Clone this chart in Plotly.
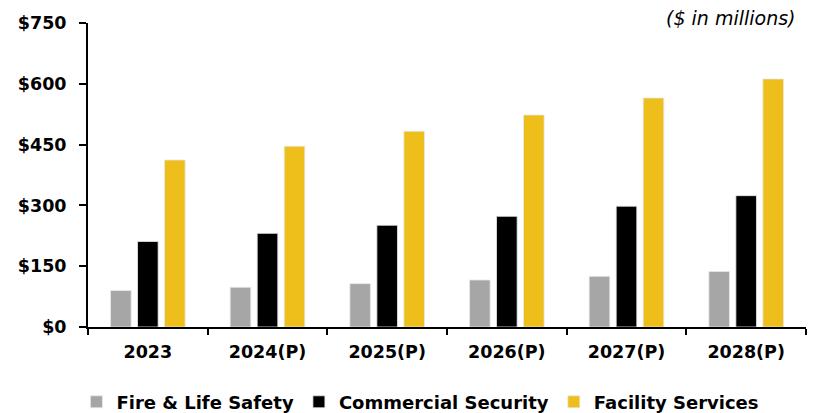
import plotly.graph_objects as go

categories = ["2023", "2024(P)", "2025(P)", "2026(P)", "2027(P)", "2028(P)"]
fire_life_safety = [90, 98, 107, 116, 125, 137]
commercial_security = [211, 231, 251, 273, 298, 324]
facility_services = [412, 446, 483, 523, 565, 612]
y_ticks = [0, 150, 300, 450, 600, 750]
y_tick_labels = ["$0", "$150", "$300", "$450", "$600", "$750"]

FONT = "DejaVu Sans"

fig = go.Figure()
series = [
    ("Fire & Life Safety", fire_life_safety, "#A6A6A6"),
    ("Commercial Security", commercial_security, "#000000"),
    ("Facility Services", facility_services, "#EEBE1A"),
]
for name, vals, col in series:
    fig.add_trace(go.Bar(
        x=categories, y=vals, name="<b>" + name + "</b>",
        marker=dict(color=col, line=dict(color="#E8E8E8", width=0.8)),
    ))

# page body has an 8px default margin, so the figure is sized 811x405
fig.update_layout(
    width=811, height=405,
    margin=dict(l=80, r=13, t=15, b=86, autoexpand=False),
    paper_bgcolor="white", plot_bgcolor="white",
    barmode="group", bargap=0.323, bargroupgap=0.237,
    font=dict(family=FONT, color="black", size=17),
    showlegend=True,
    legend=dict(orientation="h", x=0.463, xanchor="center", y=-0.247, yanchor="middle",
                font=dict(size=18, family=FONT), itemwidth=30, traceorder="normal"),
    xaxis=dict(
        automargin=False,
        showline=True, linecolor="black", linewidth=2,
        ticks="outside", tickson="boundaries", ticklen=6, tickwidth=2, tickcolor="black",
        tickvals=categories, ticktext=["<b>" + c + "</b>" for c in categories],
        tickfont=dict(size=17.5, family=FONT), ticklabelstandoff=8,
        showgrid=False,
    ),
    yaxis=dict(
        automargin=False,
        range=[0, 750],
        showline=True, linecolor="black", linewidth=2,
        ticks="outside", ticklen=7, tickwidth=2, tickcolor="black",
        tickvals=y_ticks, ticktext=["<b>" + t + "</b>" for t in y_tick_labels],
        tickfont=dict(size=17.5, family=FONT), ticklabelstandoff=9,
        showgrid=False, zeroline=False,
    ),
    annotations=[dict(
        text="<i>($ in millions)</i>", xref="paper", yref="paper",
        x=1.0, y=1.0, xanchor="right", yanchor="middle", showarrow=False,
        font=dict(size=19, family=FONT, color="black"),
        xshift=-8, yshift=5,
    )],
)

fig.write_html("out.html")
